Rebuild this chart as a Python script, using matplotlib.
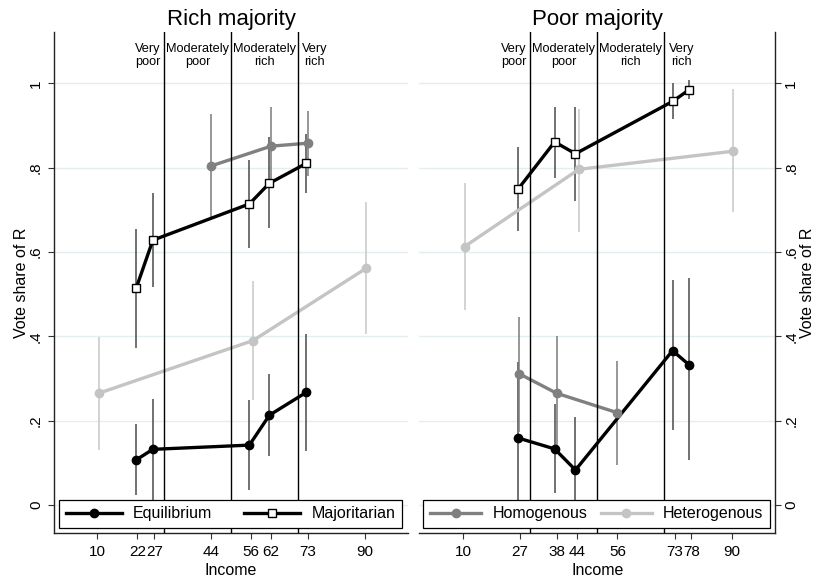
import matplotlib
matplotlib.use("Agg")
import matplotlib.pyplot as plt
from matplotlib.lines import Line2D

plt.rcParams['font.family'] = ['Liberation Sans', 'DejaVu Sans']

# ---- data ---------------------------------------------------------------
panel_titles = ["Rich majority", "Poor majority"]
income_ticks = [[10, 22, 27, 44, 56, 62, 73, 90],
                [10, 27, 38, 44, 56, 73, 78, 90]]
y_ticks = [0, 0.2, 0.4, 0.6, 0.8, 1.0]
y_tick_labels = ["0", ".2", ".4", ".6", ".8", "1"]
class_bounds = [30, 50, 70]
class_labels = ["Very\npoor", "Moderately\npoor", "Moderately\nrich", "Very\nrich"]
series_names = ["Equilibrium", "Majoritarian", "Homogenous", "Heterogenous"]

# Rich majority
rich_eq_x = [21.6, 26.6, 55.5, 61.5, 72.5]
rich_eq_y = [0.107, 0.132, 0.142, 0.213, 0.267]
rich_eq_lo = [0.023, -0.02, 0.036, 0.117, 0.129]
rich_eq_hi = [0.191, 0.252, 0.250, 0.311, 0.406]

rich_maj_x = [21.6, 26.6, 55.5, 61.5, 72.5]
rich_maj_y = [0.514, 0.628, 0.714, 0.763, 0.810]
rich_maj_lo = [0.373, 0.516, 0.610, 0.656, 0.741]
rich_maj_hi = [0.654, 0.741, 0.818, 0.872, 0.880]

rich_hom_x = [44.0, 62.0, 73.0]
rich_hom_y = [0.804, 0.851, 0.858]
rich_hom_lo = [0.684, 0.760, 0.780]
rich_hom_hi = [0.927, 0.943, 0.935]

rich_het_x = [10.4, 56.6, 90.4]
rich_het_y = [0.265, 0.390, 0.561]
rich_het_lo = [0.130, 0.249, 0.405]
rich_het_hi = [0.399, 0.531, 0.719]

# Poor majority
poor_eq_x = [26.4, 37.3, 43.5, 72.4, 77.4]
poor_eq_y = [0.159, 0.133, 0.083, 0.366, 0.332]
poor_eq_lo = [-0.02, 0.028, -0.02, 0.178, 0.107]
poor_eq_hi = [0.340, 0.240, 0.209, 0.534, 0.538]

poor_maj_x = [26.4, 37.3, 43.5, 72.4, 77.4]
poor_maj_y = [0.749, 0.861, 0.833, 0.957, 0.985]
poor_maj_lo = [0.650, 0.775, 0.722, 0.915, 0.962]
poor_maj_hi = [0.848, 0.945, 0.943, 1.000, 1.008]

poor_hom_x = [26.8, 37.9, 55.9]
poor_hom_y = [0.311, 0.265, 0.219]
poor_hom_lo = [0.174, 0.130, 0.096]
poor_hom_hi = [0.445, 0.401, 0.342]

poor_het_x = [10.5, 44.5, 90.5]
poor_het_y = [0.613, 0.796, 0.839]
poor_het_lo = [0.462, 0.648, 0.696]
poor_het_hi = [0.764, 0.938, 0.986]

panels = [
    [(rich_eq_x, rich_eq_y, rich_eq_lo, rich_eq_hi),
     (rich_maj_x, rich_maj_y, rich_maj_lo, rich_maj_hi),
     (rich_hom_x, rich_hom_y, rich_hom_lo, rich_hom_hi),
     (rich_het_x, rich_het_y, rich_het_lo, rich_het_hi)],
    [(poor_eq_x, poor_eq_y, poor_eq_lo, poor_eq_hi),
     (poor_maj_x, poor_maj_y, poor_maj_lo, poor_maj_hi),
     (poor_hom_x, poor_hom_y, poor_hom_lo, poor_hom_hi),
     (poor_het_x, poor_het_y, poor_het_lo, poor_het_hi)],
]

# ---- styles ---------------------------------------------------------------
styles = [
    dict(color="black", marker="o", mfc="black", mec="black", ms=6.0),
    dict(color="black", marker="s", mfc="white", mec="black", ms=5.5, mew=1.0),
    dict(color="#808080", marker="o", mfc="#808080", mec="#808080", ms=6.0),
    dict(color="#c4c4c4", marker="o", mfc="#c4c4c4", mec="#c4c4c4", ms=6.0),
]
bar_colors = ["#4a4a4a", "#4a4a4a", "#7a7a7a", "#c8c8c8"]
line_w = 2.4

fig = plt.figure(figsize=(8.16, 5.77), dpi=100)
W, H = 816, 577
ax_boxes = [(54, 408), (419.3, 775.3)]
top_px, bot_px = 32, 533
axes = []
for (l, r) in ax_boxes:
    axes.append(fig.add_axes([l / W, 1 - bot_px / H, (r - l) / W, (bot_px - top_px) / H]))

for k, ax in enumerate(axes):
    ax.set_xlim(-3, 103)
    ax.set_ylim(-0.0664, 1.1217)
    ax.set_facecolor("white")

    # horizontal grid
    for yt in y_ticks:
        ax.axhline(yt, color="#e4edf0", lw=1.0, zorder=0)

    # series with confidence intervals
    for s, (xs, ys, lo, hi) in enumerate(panels[k]):
        ax.vlines(xs, lo, hi, color=bar_colors[s], lw=1.1, zorder=1 + s * 0.01)
    for s in [3, 2, 0, 1]:
        xs, ys, lo, hi = panels[k][s]
        ax.plot(xs, ys, lw=line_w, zorder=3 + s * 0.1, solid_capstyle="butt",
                solid_joinstyle="miter", **styles[s])

    # income class boundaries
    for b in class_bounds:
        ax.axvline(b, color="black", lw=1.0, zorder=4)

    label_y = 1.066
    ax.text(class_bounds[0] - 1.2, label_y, class_labels[0], ha="right", va="center",
            multialignment="center", fontsize=9.2, zorder=5)
    ax.text((class_bounds[0] + class_bounds[1]) / 2, label_y, class_labels[1], ha="center",
            va="center", multialignment="center", fontsize=9.2, zorder=5)
    ax.text((class_bounds[1] + class_bounds[2]) / 2, label_y, class_labels[2], ha="center",
            va="center", multialignment="center", fontsize=9.2, zorder=5)
    ax.text(class_bounds[2] + 1.3, label_y, class_labels[3], ha="left", va="center",
            multialignment="center", fontsize=9.2, zorder=5)

    ax.set_title(panel_titles[k], fontsize=16, pad=5)

    ax.set_xticks(income_ticks[k])
    ax.set_xticklabels([str(v) for v in income_ticks[k]])
    ax.set_yticks(y_ticks)
    ax.set_yticklabels(y_tick_labels)
    ax.tick_params(axis="x", length=4.5, width=0.8, color="#333333", labelsize=11, pad=4.5)
    ax.tick_params(axis="y", length=4.0, width=0.8, color="#333333", labelsize=11,
                   pad=(4 if k == 0 else 2.5), labelrotation=90)

    ax.set_xlabel("Income", fontsize=11.5, labelpad=2.5)
    for sp in ax.spines.values():
        sp.set_linewidth(1.0)
        sp.set_color("#222222")
    ax.spines["top"].set_visible(False)
    if k == 0:
        ax.spines["right"].set_visible(False)
        ax.set_ylabel("Vote share of R", fontsize=11.5, labelpad=0)
    else:
        ax.spines["left"].set_visible(False)
        ax.yaxis.tick_right()
        ax.yaxis.set_label_position("right")
        ax.set_ylabel("Vote share of R", fontsize=11.5, labelpad=1.5)
    for lbl in ax.get_yticklabels():
        lbl.set_va("center")

# legends
def handle(s):
    return Line2D([0], [0], lw=line_w, **styles[s])

leg_specs = [((0, 1), 5 / 354, 343 / 354, 3.5), ((2, 3), 4 / 356, 347 / 356, 3.2)]
for ax, (idx, x0, w, hl) in zip(axes, leg_specs):
    leg = ax.legend([handle(i) for i in idx], [series_names[i] for i in idx],
                    loc="lower left", bbox_to_anchor=(x0, 5 / 501, w, 30 / 501),
                    mode="expand", ncol=2, fontsize=11.5, frameon=True, fancybox=False,
                    framealpha=1.0, edgecolor="black", borderpad=0.42, borderaxespad=0,
                    handlelength=hl, handletextpad=0.7, columnspacing=1.0)
    leg.get_frame().set_linewidth(0.9)
    leg.set_zorder(10)

fig.savefig("out.png", dpi=100)
